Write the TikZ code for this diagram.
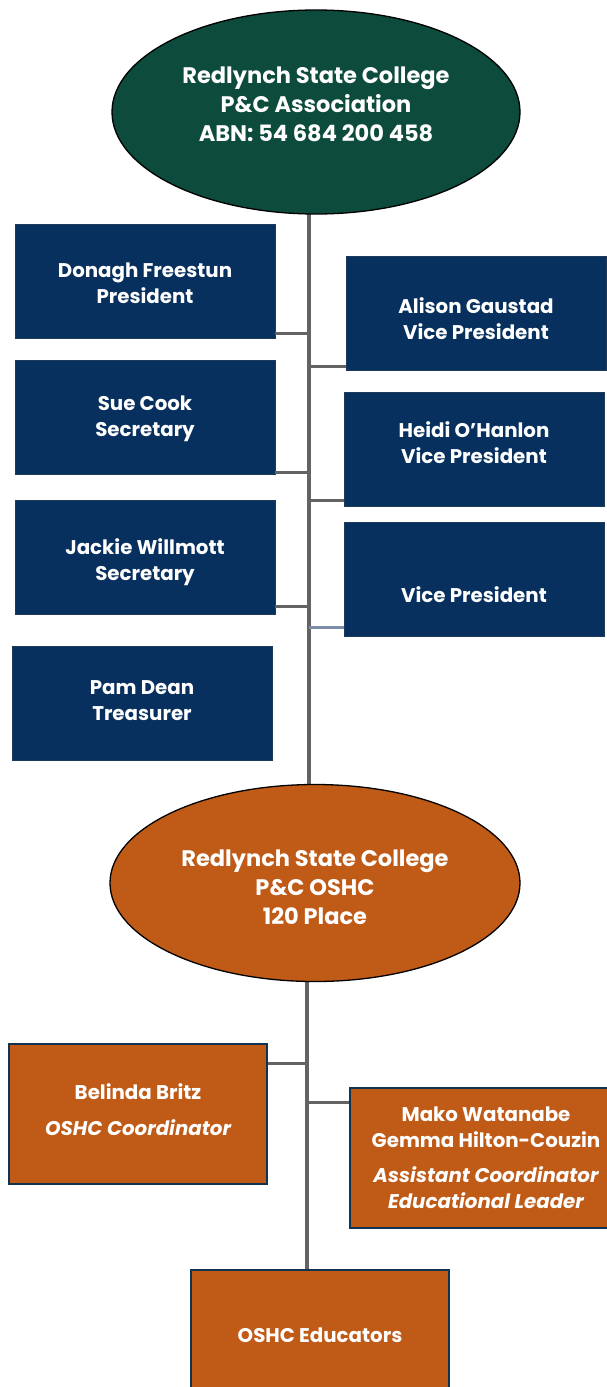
\documentclass[tikz,border=0pt]{standalone}
\usepackage{fontspec}
\setmainfont{Poppins}
\usetikzlibrary{shapes.geometric}
\definecolor{pcgreen}{HTML}{0D4B3D}
\definecolor{pcnavy}{HTML}{08305E}
\definecolor{navyline}{HTML}{1D3A5A}
\definecolor{oshc}{HTML}{C05A17}
\definecolor{oshcline}{HTML}{10344F}
\definecolor{spinegray}{HTML}{636363}
\definecolor{paleblue}{HTML}{7A8CA8}
\begin{document}
\begin{tikzpicture}[x=1pt,y=-1pt,
  every node/.style={text=white,align=center,inner sep=0pt,font=\bfseries\fontsize{19.8}{26}\selectfont},
  textlift/.style={text height=#1,text depth=0pt},
  bubble/.style={ellipse,draw=black,line width=1.3pt,minimum width=408pt,minimum height=204pt,
    font=\bfseries\fontsize{22.5}{29}\selectfont},
  navybox/.style={draw=navyline,fill=pcnavy,line width=0.8pt,minimum width=260pt,minimum height=114pt},
  oshcbox/.style={draw=oshcline,fill=oshc,line width=1.6pt,minimum width=258pt,minimum height=140pt},
  spine/.style={draw=spinegray,line width=4pt},
  link/.style={draw=spinegray,line width=3pt}]
\useasboundingbox (0,0) rectangle (607,1387);
\fill[white] (0,0) rectangle (607,1387);

% spine lines first, so the shapes sit on top
\coordinate (spinetop) at (309,205);
\coordinate (spinemid) at (309,790);
\coordinate (oshctop) at (307,975);
\coordinate (oshcbot) at (307,1272);
\draw[spine] (spinetop) -- (spinemid);
\draw[spine] (oshctop) -- (oshcbot);

% association
\node[bubble,fill=pcgreen,textlift=58pt] (assoc) at (316,112) {Redlynch State College\\P\&C Association\\ABN: 54 684 200 458};

% committee
\node[navybox,textlift=44pt] (donagh) at (145,281) {Donagh Freestun\\President};
\node[navybox,textlift=52pt] (alison) at (476,313) {Alison Gaustad\\Vice President};
\node[navybox,textlift=38pt] (sue) at (145,417) {Sue Cook\\Secretary};
\node[navybox,textlift=28pt] (heidi) at (474,449) {Heidi O’Hanlon\\Vice President};
\node[navybox,textlift=46pt] (jackie) at (145,557) {Jackie Willmott\\Secretary};
\node[navybox,textlift=46pt] (vicepres) at (474,579) {Vice President};
\node[navybox,textlift=34pt] (pam) at (142,703) {Pam Dean\\Treasurer};

\path ([yshift=5pt]donagh.south east) coordinate (donaghlink)
      ([yshift=4pt]alison.south west) coordinate (alisonlink)
      ([yshift=2pt]sue.south east) coordinate (suelink)
      ([yshift=6pt]heidi.south west) coordinate (heidilink)
      ([yshift=8pt]jackie.south east) coordinate (jackielink)
      ([yshift=9pt]vicepres.south west) coordinate (vplink);
\draw[link] (donaghlink) -- (donaghlink -| spinetop);
\draw[link] (alisonlink -| spinetop) -- (alisonlink);
\draw[link] (suelink) -- (suelink -| spinetop);
\draw[link] (heidilink -| spinetop) -- (heidilink);
\draw[link] (jackielink) -- (jackielink -| spinetop);
\draw[draw=paleblue,line width=3pt] (vplink -| spinetop) -- (vplink);

% oshc
\node[bubble,fill=oshc,minimum width=410pt,minimum height=197pt,textlift=82pt] (oshcbody) at (315,883) {Redlynch State College\\P\&C OSHC\\120 Place};

\node[oshcbox,textlift=42pt] (belinda) at (138,1114) {Belinda Britz\\[10pt]\itshape OSHC Coordinator};
\node[oshcbox,minimum width=272pt,textlift=100pt] (mako) at (486,1158) {Mako Watanabe\\Gemma Hilton-Couzin\\[9pt]\itshape Assistant Coordinator\\\itshape Educational Leader};
\node[oshcbox,textlift=4pt] (educators) at (320,1340) {OSHC Educators};

\path ([yshift=-20pt]belinda.north east) coordinate (belindalink)
      ([yshift=-15pt]mako.north west) coordinate (makolink);
\draw[link] (belindalink) -- (belindalink -| oshctop);
\draw[link] (makolink -| oshctop) -- (makolink);
\end{tikzpicture}
\end{document}
